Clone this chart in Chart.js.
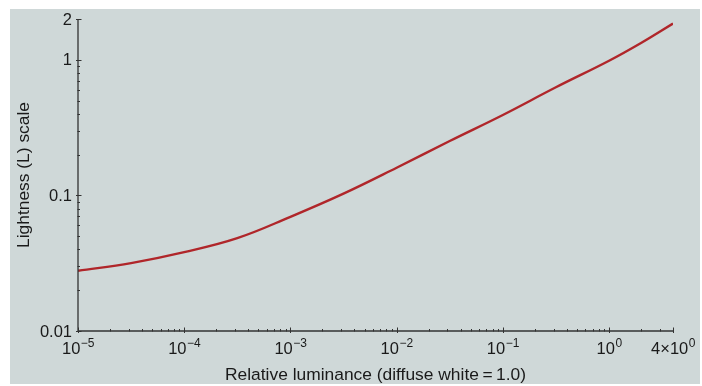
<!DOCTYPE html>
<html>
<head>
<meta charset="utf-8">
<script src="https://cdn.jsdelivr.net/npm/chart.js@4.4.1/dist/chart.umd.min.js"></script>
<style>
  html, body { margin: 0; padding: 0; background: #fff; }
  canvas { display: block; }
</style>
</head>
<body>
<canvas id="lightnessChart" width="702" height="386"></canvas>
<script>
// Relative luminance (diffuse white = 1.0) and the lightness at each point
const luminance = [0.00001, 0.0000316, 0.0001, 0.000316, 0.001, 0.00316, 0.01, 0.0316, 0.1, 0.316, 1, 2, 4];
const lightness = [0.0278, 0.0317, 0.0382, 0.0484, 0.0695, 0.103, 0.160, 0.252, 0.392, 0.627, 0.984, 1.33, 1.85];

// Labelled tick values; "^" marks the start of a superscript
const xMajor = [1e-5, 1e-4, 1e-3, 1e-2, 1e-1, 1, 4];
const xTickLabels = ['10^\u22125', '10^\u22124', '10^\u22123', '10^\u22122', '10^\u22121', '10^0', '4\u00d710^0'];
const yMajor = [0.01, 0.1, 1, 2];
const yTickLabels = ['0.01', '0.1', '1', '2'];

const xTitle = 'Relative luminance (diffuse white\u2009=\u20091.0)';
const yTitle = 'Lightness (L) scale';

// unlabelled minor ticks at 2..9 of each decade
const xMinor = [];
for (let d = -5; d <= 0; d++) {
  for (let m = 2; m <= 9; m++) {
    const v = m * Math.pow(10, d);
    if (v < 4) xMinor.push(v);
  }
}
const yMinor = [];
for (let d = -2; d <= -1; d++) {
  for (let m = 2; m <= 9; m++) yMinor.push(m * Math.pow(10, d));
}

const FONT = '"Liberation Sans", Arial, Helvetica, sans-serif';
const TEXT = '#1a1a1a';
const AXIS = '#333';

const points = luminance.map((v, i) => ({ x: v, y: lightness[i] }));

// Panel background, axis lines, ticks and labels
const axesPlugin = {
  id: 'axesPlugin',
  beforeDraw(chart) {
    const ctx = chart.ctx;
    ctx.save();
    ctx.fillStyle = '#cfd8d8';
    ctx.fillRect(10, 9, 690, 375);
    ctx.restore();
  },
  afterDraw(chart) {
    const { ctx, scales: { x, y } } = chart;
    const x0 = x.getPixelForValue(1e-5);
    const x1 = x.getPixelForValue(4);
    const y0 = y.getPixelForValue(0.01);
    const y1 = y.getPixelForValue(2);

    ctx.save();
    ctx.strokeStyle = AXIS;
    ctx.lineWidth = 1.3;
    ctx.beginPath();
    ctx.moveTo(x0, y1);
    ctx.lineTo(x0, y0);
    ctx.lineTo(x1, y0);
    ctx.stroke();

    ctx.lineWidth = 1;
    ctx.beginPath();
    xMajor.forEach(v => {
      const px = Math.round(x.getPixelForValue(v)) + 0.5;
      ctx.moveTo(px, y0 - 3.5); ctx.lineTo(px, y0 + 2);
    });
    xMinor.forEach(v => {
      const px = Math.round(x.getPixelForValue(v)) + 0.5;
      ctx.moveTo(px, y0 - 2); ctx.lineTo(px, y0 + 0.5);
    });
    yMajor.forEach(v => {
      const py = Math.round(y.getPixelForValue(v)) + 0.5;
      ctx.moveTo(x0 - 2, py); ctx.lineTo(x0 + 3.5, py);
    });
    yMinor.forEach(v => {
      const py = Math.round(y.getPixelForValue(v)) + 0.5;
      ctx.moveTo(x0 - 0.5, py); ctx.lineTo(x0 + 2, py);
    });
    ctx.stroke();

    ctx.fillStyle = TEXT;
    ctx.textBaseline = 'alphabetic';

    // x tick labels with superscript exponents
    xMajor.forEach((v, i) => {
      const [base, exp] = xTickLabels[i].split('^');
      ctx.font = '16.5px ' + FONT;
      const wb = ctx.measureText(base).width;
      ctx.font = '12px ' + FONT;
      const we = ctx.measureText(exp).width;
      const left = x.getPixelForValue(v) - (wb + we) / 2;
      ctx.font = '16.5px ' + FONT;
      ctx.textAlign = 'left';
      ctx.fillText(base, left, 354);
      ctx.font = '12px ' + FONT;
      ctx.fillText(exp, left + wb + 0.5, 346.5);
    });

    // y tick labels
    ctx.font = '16.5px ' + FONT;
    ctx.textAlign = 'right';
    ctx.textBaseline = 'middle';
    yMajor.forEach((v, i) => {
      ctx.fillText(yTickLabels[i], x0 - 6, y.getPixelForValue(v) + 1);
    });

    // axis titles
    ctx.font = '17.4px ' + FONT;
    ctx.textAlign = 'center';
    ctx.fillText(xTitle, (x0 + x1) / 2, 375);
    ctx.translate(24, (y0 + y1) / 2);
    ctx.rotate(-Math.PI / 2);
    ctx.fillText(yTitle, 0, 0);
    ctx.restore();
  }
};

new Chart(document.getElementById('lightnessChart'), {
  type: 'line',
  data: {
    datasets: [{
      data: points,
      borderColor: '#b0262a',
      borderWidth: 2.4,
      pointRadius: 0,
      tension: 0.4,
      fill: false
    }]
  },
  options: {
    responsive: false,
    animation: false,
    devicePixelRatio: 1,
    layout: { padding: { top: 19, right: 29, left: 0, bottom: 0 } },
    plugins: {
      legend: { display: false },
      tooltip: { enabled: false }
    },
    scales: {
      x: {
        type: 'logarithmic',
        min: 1e-5,
        max: 4,
        ticks: { display: false },
        grid: { display: false },
        border: { display: false },
        afterFit: (scale) => { scale.height = 55; }
      },
      y: {
        type: 'logarithmic',
        min: 0.01,
        max: 2,
        ticks: { display: false },
        grid: { display: false },
        border: { display: false },
        afterFit: (scale) => { scale.width = 78; }
      }
    }
  },
  plugins: [axesPlugin]
});
</script>
</body>
</html>
